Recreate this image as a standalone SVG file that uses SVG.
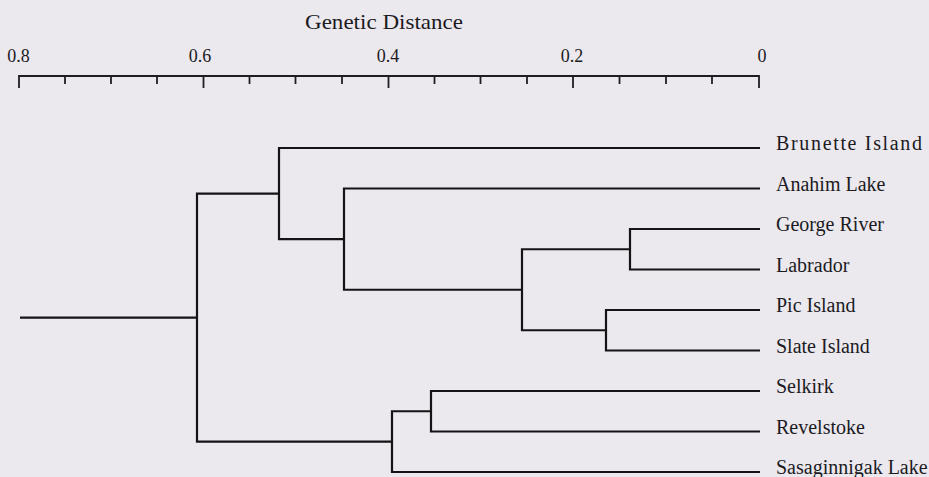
<svg xmlns="http://www.w3.org/2000/svg" width="929" height="477" viewBox="0 0 929 477">
  <style>
    .bg { fill: #ebe8ee; }
    .axis { stroke: #1f1d22; stroke-width: 1.8; fill: none; }
    .tick { stroke: #1f1d22; stroke-width: 1.8; }
    .branch { stroke: #141316; stroke-width: 2.2; fill: none; stroke-linejoin: miter; }
    .num { font-family: "Liberation Serif", "Times New Roman", serif; font-size: 18px; fill: #1c1b1f; text-anchor: middle; }
    .title { font-family: "Liberation Serif", "Times New Roman", serif; font-size: 21px; fill: #1c1b1f; }
    .leaf { font-family: "Liberation Serif", "Times New Roman", serif; font-size: 20px; fill: #1c1b1f; }
  </style>

  <rect class="bg" x="0" y="0" width="929" height="477"/>

  <!-- distance scale: 0.8 at x=19, 0 at x=759 -->
  <g id="scale">
    <text class="title" x="305" y="29" textLength="158" lengthAdjust="spacingAndGlyphs">Genetic Distance</text>
    <text class="num" x="18.5" y="62">0.8</text>
    <text class="num" x="200" y="62">0.6</text>
    <text class="num" x="388" y="62">0.4</text>
    <text class="num" x="572" y="62">0.2</text>
    <text class="num" x="762" y="62">0</text>
    <path class="axis" d="M19 76 H759"/>
    <g class="tick">
      <line x1="19" y1="75" x2="19" y2="88"/>
      <line x1="203.5" y1="76" x2="203.5" y2="88"/>
      <line x1="388.5" y1="76" x2="388.5" y2="88"/>
      <line x1="573" y1="76" x2="573" y2="88"/>
      <line x1="759" y1="75" x2="759" y2="88"/>
      <line x1="65" y1="76" x2="65" y2="84"/>
      <line x1="111" y1="76" x2="111" y2="84"/>
      <line x1="157" y1="76" x2="157" y2="84"/>
      <line x1="249.5" y1="76" x2="249.5" y2="84"/>
      <line x1="295.5" y1="76" x2="295.5" y2="84"/>
      <line x1="342" y1="76" x2="342" y2="84"/>
      <line x1="434.5" y1="76" x2="434.5" y2="84"/>
      <line x1="480.5" y1="76" x2="480.5" y2="84"/>
      <line x1="527" y1="76" x2="527" y2="84"/>
      <line x1="619.5" y1="76" x2="619.5" y2="84"/>
      <line x1="666" y1="76" x2="666" y2="84"/>
      <line x1="712" y1="76" x2="712" y2="84"/>
    </g>
  </g>

  <!-- tree branches -->
  <g id="connectors" class="branch">
    <path id="root-stem" d="M20 317.6 H197"/>
    <path id="n8" d="M279 193.6 H197 V441.6 H392"/>
    <path id="n5" d="M760 148 H279 V239.1 H344"/>
    <path id="n4" d="M760 188.5 H344 V289.75 H522"/>
    <path id="n3" d="M630 249.25 H522 V330.25 H606"/>
    <path id="n1" d="M760 229 H630 V269.5 H760"/>
    <path id="n2" d="M760 310 H606 V350.5 H760"/>
    <path id="n7" d="M431 411.25 H392 V472 H760"/>
    <path id="n6" d="M760 391 H431 V431.5 H760"/>
  </g>

  <!-- populations -->
  <g id="brunette-island"><text class="leaf" x="776" y="150" textLength="146" lengthAdjust="spacing">Brunette Island</text></g>
  <g id="anahim-lake"><text class="leaf" x="776" y="190.5">Anahim Lake</text></g>
  <g id="george-river"><text class="leaf" x="776" y="231">George River</text></g>
  <g id="labrador"><text class="leaf" x="776" y="271.5">Labrador</text></g>
  <g id="pic-island"><text class="leaf" x="776" y="312">Pic Island</text></g>
  <g id="slate-island"><text class="leaf" x="776" y="352.5">Slate Island</text></g>
  <g id="selkirk"><text class="leaf" x="776" y="393">Selkirk</text></g>
  <g id="revelstoke"><text class="leaf" x="776" y="433.5">Revelstoke</text></g>
  <g id="sasaginnigak-lake"><text class="leaf" x="776" y="474">Sasaginnigak Lake</text></g>
</svg>
